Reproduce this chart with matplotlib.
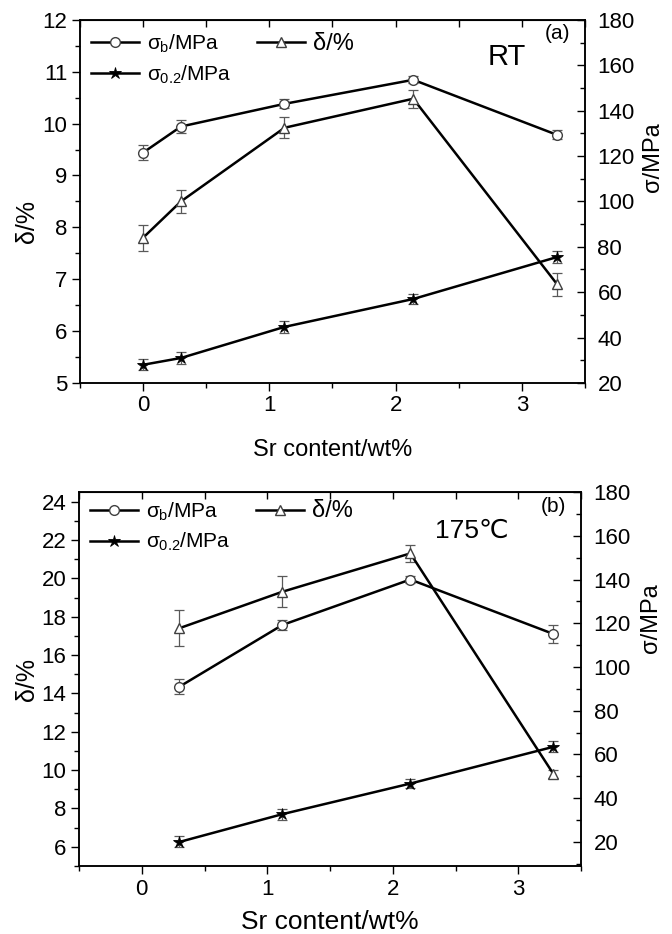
"""
    Tensile properties of the alloy against Sr content, at room
    temperature (a) and at 175 C (b). Left axis is the elongation,
    right axis the strength.
"""

import matplotlib
matplotlib.use("Agg")
import matplotlib.pyplot as plt
from matplotlib.ticker import MultipleLocator

plt.rcParams["font.family"] = ["Liberation Sans", "DejaVu Sans"]
plt.rcParams["mathtext.fontset"] = "custom"
plt.rcParams["mathtext.rm"] = "Liberation Sans"
plt.rcParams["mathtext.it"] = "Liberation Sans"
plt.rcParams["mathtext.bf"] = "Liberation Sans:bold"


# Sr content (wt%)
SR_RT = [0, 0.3, 1.12, 2.14, 3.28]
SR_HT = [0.3, 1.12, 2.14, 3.28]

# (a) room temperature
SB_RT = [121.5, 133.0, 143.0, 153.6, 129.3]
SB_RT_ERR = [3.3, 3.0, 2.0, 1.5, 2.0]
S02_RT = [28.0, 31.0, 44.7, 57.0, 75.5]
S02_RT_ERR = [2.5, 2.5, 2.5, 2.3, 2.5]
D_RT = [7.8, 8.5, 9.92, 10.48, 6.9]
D_RT_ERR = [0.25, 0.22, 0.2, 0.17, 0.22]

# (b) 175 C
SB_HT = [91.0, 119.2, 140.0, 115.1]
SB_HT_ERR = [3.5, 2.3, 1.5, 4.0]
S02_HT = [20.0, 32.7, 46.7, 63.5]
S02_HT_ERR = [2.5, 2.5, 2.0, 2.5]
D_HT = [17.4, 19.3, 21.3, 9.8]
D_HT_ERR = [0.95, 0.8, 0.45, 0.2]

LABEL_SB = r"$\sigma_{\rm b}$/MPa"
LABEL_S02 = r"$\sigma_{\rm 0.2}$/MPa"
LABEL_D = "δ/%"

LINE = dict(color="black", linewidth=1.8, zorder=3)
MARK = dict(markersize=7, markeredgewidth=1.0, markeredgecolor="0.25")
ERR = dict(fmt="none", ecolor="0.35", elinewidth=0.9, capsize=3.5,
           capthick=0.9, zorder=2)


# Draws one panel with its two y axes.
def draw_panel(fig, rect, x, sb, sb_err, s02, s02_err, d, d_err,
               d_lim, d_major, s_lim, tag, cond, cond_pos, cond_size,
               xlabel_size, xlabel_y, ylabel_pos, legend_y):
    ax = fig.add_axes(rect)
    ax2 = ax.twinx()

    # Elongation on the left axis.
    ax.errorbar(x, d, yerr=d_err, **ERR)
    h_d, = ax.plot(x, d, marker="^", markerfacecolor="white",
                   **MARK, **LINE)

    # Strength on the right axis.
    ax2.errorbar(x, sb, yerr=sb_err, **ERR)
    h_sb, = ax2.plot(x, sb, marker="o", markerfacecolor="white",
                     **MARK, **LINE)
    ax2.errorbar(x, s02, yerr=s02_err, **ERR)
    h_s02, = ax2.plot(x, s02, marker="*", markerfacecolor="black",
                      markersize=9, markeredgewidth=0.6,
                      markeredgecolor="black", **LINE)

    ax.set_xlim(-0.5, 3.5)
    ax.set_ylim(*d_lim)
    ax2.set_ylim(*s_lim)

    ax.xaxis.set_major_locator(MultipleLocator(1))
    ax.xaxis.set_minor_locator(MultipleLocator(0.5))
    ax.yaxis.set_major_locator(MultipleLocator(d_major))
    ax.yaxis.set_minor_locator(MultipleLocator(d_major / 2))
    ax2.yaxis.set_major_locator(MultipleLocator(20))
    ax2.yaxis.set_minor_locator(MultipleLocator(10))

    ax.tick_params(axis="both", which="major", direction="out",
                   length=6, width=1.0, labelsize=16, pad=3)
    ax.tick_params(axis="both", which="minor", direction="out",
                   length=3.5, width=1.0)
    ax.tick_params(axis="x", which="both", top=False)
    ax2.tick_params(axis="y", which="major", direction="in",
                    length=6, width=1.0, labelsize=16, pad=9)
    ax2.tick_params(axis="y", which="minor", direction="in",
                    length=3.5, width=1.0)

    # Mirrored ticks on the top edge point inwards.
    top = ax.secondary_xaxis("top")
    top.xaxis.set_major_locator(MultipleLocator(0.5))
    top.tick_params(direction="in", length=5, width=1.0, labeltop=False)

    for a in (ax, ax2):
        for spine in a.spines.values():
            spine.set_linewidth(1.1)

    ax.set_xlabel("Sr content/wt%", fontsize=xlabel_size)
    ax.xaxis.set_label_coords(0.5, xlabel_y)
    ax.xaxis.label.set_verticalalignment("center")
    ax.set_ylabel(LABEL_D, fontsize=18, va="center")
    ax.yaxis.set_label_coords(ylabel_pos[0], ylabel_pos[1])
    ax2.set_ylabel("σ/MPa", fontsize=17, va="center", rotation=90)
    ax2.yaxis.set_label_coords(ylabel_pos[2], ylabel_pos[3])

    ax.text(0.946, 0.962, tag, transform=ax.transAxes, fontsize=15,
            ha="center", va="center")
    ax.text(cond_pos[0], cond_pos[1], cond, transform=ax.transAxes,
            fontsize=cond_size, ha="center", va="center")

    leg = ax2.legend(
        handles=[h_sb, h_s02, h_d],
        labels=[LABEL_SB, LABEL_S02, LABEL_D],
        ncol=2,
        loc="upper left",
        bbox_to_anchor=(0.022, legend_y),
        frameon=False,
        fontsize=15,
        handlelength=2.3,
        handletextpad=0.4,
        columnspacing=1.2,
        labelspacing=0.4,
        borderpad=0,
        borderaxespad=0
    )
    leg.get_texts()[2].set_fontsize(17)

    return ax, ax2


fig = plt.figure(figsize=(6.72, 9.34), dpi=100)

draw_panel(fig, [0.119, 0.590, 0.7515, 0.3887],
           SR_RT, SB_RT, SB_RT_ERR, S02_RT, S02_RT_ERR, D_RT, D_RT_ERR,
           d_lim=(5, 12), d_major=1, s_lim=(20, 180),
           tag="(a)", cond="RT", cond_pos=(0.845, 0.898), cond_size=21,
           xlabel_size=17, xlabel_y=-0.185,
           ylabel_pos=(-0.105, 0.444, 1.135, 0.623), legend_y=0.965)

draw_panel(fig, [0.1176, 0.0728, 0.747, 0.4004],
           SR_HT, SB_HT, SB_HT_ERR, S02_HT, S02_HT_ERR, D_HT, D_HT_ERR,
           d_lim=(5, 24.5), d_major=2, s_lim=(9, 180),
           tag="(b)", cond="175℃", cond_pos=(0.783, 0.896), cond_size=19,
           xlabel_size=19, xlabel_y=-0.15,
           ylabel_pos=(-0.104, 0.5, 1.14, 0.663), legend_y=0.978)

fig.savefig("out.png", dpi=100)
